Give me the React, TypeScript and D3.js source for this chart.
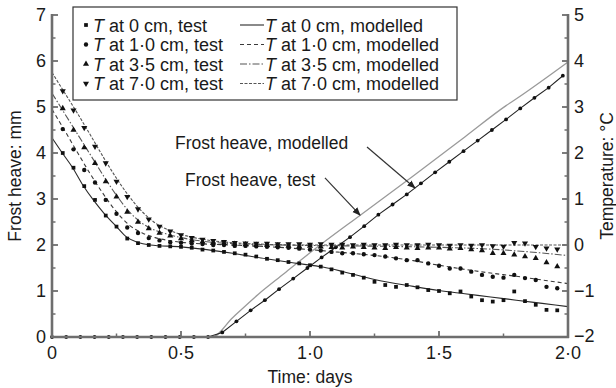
import React from 'react';
import * as d3 from 'd3';

const W = 616;
const H = 388;

// x-axis ticks (days)
const xMajor = [0, 0.5, 1.0, 1.5, 2.0];
const xMajorLabels = ['0', '0·5', '1·0', '1·5', '2·0'];
const xMinor = [0.25, 0.75, 1.25, 1.75];
const leftTicks = [0, 1, 2, 3, 4, 5, 6, 7];
const leftMinor = [0.5, 1.5, 2.5, 3.5, 4.5, 5.5, 6.5];
const rightTicks = [-2, -1, 0, 1, 2, 3, 4, 5];
const rightMinor = [-1.5, -0.5, 0.5, 1.5, 2.5, 3.5, 4.5];

// temperature test data: hourly readings (hour index)
const hours = [1, 2, 3, 4, 5, 6, 7, 8, 9, 10, 11, 12, 13, 14, 15, 16, 17, 18, 19, 20, 21, 22, 23, 24,
  25, 26, 27, 28, 29, 30, 31, 32, 33, 34, 35, 36, 37, 38, 39, 40, 41, 42, 43, 44, 45, 46, 47];
const t0Test = [2.0, 1.68, 1.28, 0.98, 0.64, 0.4, 0.14, 0.04, 0.0, -0.02, -0.03, -0.04, -0.06, -0.1, -0.12, -0.15,
  -0.18, -0.21, -0.25, -0.3, -0.33, -0.37, -0.4, -0.44, -0.47, -0.53, -0.6, -0.65, -0.71, -0.8, -0.87, -0.91,
  -0.87, -0.92, -0.98, -1.0, -1.05, -1.01, -1.12, -1.2, -1.23, -1.2, -1.01, -1.22, -1.3, -1.41, -1.42];
const t1Test = [2.52, 2.08, 1.63, 1.36, 0.98, 0.68, 0.38, 0.26, 0.15, 0.1, 0.06, 0.05, 0.03, 0.02, 0.0, 0.0,
  -0.02, -0.02, -0.03, -0.04, -0.05, -0.06, -0.08, -0.1, -0.12, -0.15, -0.18, -0.18, -0.2, -0.22, -0.25, -0.29,
  -0.33, -0.33, -0.4, -0.45, -0.51, -0.51, -0.58, -0.65, -0.69, -0.71, -0.65, -0.72, -0.76, -0.91, -0.94];
const t35Test = [2.97, 2.5, 2.12, 1.78, 1.38, 1.05, 0.72, 0.5, 0.36, 0.26, 0.2, 0.14, 0.1, 0.07, 0.05, 0.04,
  0.02, 0.01, 0.0, 0.0, -0.01, -0.02, -0.03, -0.02, -0.04, -0.05, -0.06, -0.04, -0.05, -0.06, -0.07, -0.05,
  -0.06, -0.07, -0.06, -0.06, -0.08, -0.07, -0.1, -0.12, -0.18, -0.18, -0.21, -0.25, -0.29, -0.38, -0.47];
const t7Test = [3.35, 2.93, 2.55, 2.14, 1.78, 1.38, 1.05, 0.78, 0.56, 0.4, 0.3, 0.22, 0.16, 0.12, 0.09, 0.07,
  0.05, 0.04, 0.03, 0.03, 0.02, 0.02, 0.02, 0.01, 0.02, 0.01, 0.01, 0.0, 0.01, 0.0, 0.0, 0.01,
  0.0, 0.0, 0.01, 0.0, -0.01, 0.0, -0.01, 0.0, -0.02, -0.03, 0.05, 0.04, -0.04, -0.07, -0.09];

// modelled temperature curves (days, °C)
const t0ModDays = [0, 0.04, 0.08, 0.12, 0.16, 0.2, 0.25, 0.29, 0.33, 0.38, 0.5, 0.6, 0.7, 0.83, 0.95, 1.05, 1.13, 1.25, 1.4, 1.5, 1.6, 1.7, 1.8, 1.9, 2.0];
const t0ModVals = [2.33, 2.0, 1.68, 1.3, 0.98, 0.7, 0.4, 0.17, 0.06, 0.0, -0.04, -0.1, -0.18, -0.3, -0.4, -0.48, -0.58, -0.75, -0.9, -0.99, -1.06, -1.13, -1.2, -1.27, -1.34];
const t1ModDays = [0, 0.05, 0.1, 0.15, 0.2, 0.25, 0.3, 0.35, 0.4, 0.45, 0.5, 0.6, 0.7, 0.85, 1.0, 1.1, 1.2, 1.3, 1.4, 1.5, 1.6, 1.7, 1.8, 1.9, 2.0];
const t1ModVals = [2.95, 2.48, 2.0, 1.53, 1.1, 0.72, 0.43, 0.26, 0.16, 0.1, 0.06, 0.02, 0.0, -0.04, -0.1, -0.15, -0.2, -0.26, -0.34, -0.44, -0.53, -0.61, -0.68, -0.76, -0.84];
const t35ModDays = [0, 0.05, 0.1, 0.15, 0.2, 0.25, 0.3, 0.35, 0.4, 0.45, 0.5, 0.55, 0.6, 0.7, 0.8, 1.0, 1.3, 1.5, 1.7, 1.85, 2.0];
const t35ModVals = [3.3, 2.85, 2.4, 1.95, 1.5, 1.08, 0.72, 0.47, 0.32, 0.23, 0.16, 0.11, 0.07, 0.03, 0.01, -0.01, -0.03, -0.05, -0.09, -0.15, -0.23];
const t7ModDays = [0, 0.05, 0.1, 0.15, 0.2, 0.25, 0.3, 0.35, 0.4, 0.45, 0.5, 0.55, 0.6, 0.7, 0.8, 1.0, 2.0];
const t7ModVals = [3.75, 3.3, 2.85, 2.38, 1.9, 1.45, 1.05, 0.72, 0.48, 0.33, 0.23, 0.16, 0.11, 0.05, 0.02, 0.0, 0.0];

// frost heave (mm)
const frostTestDays = [0, 0.055, 0.11, 0.165, 0.22, 0.275, 0.33, 0.385, 0.44, 0.495, 0.55, 0.605, 0.66, 0.715,
  0.77, 0.825, 0.88, 0.935, 0.99, 1.045, 1.1, 1.155, 1.21, 1.265, 1.32, 1.375, 1.43, 1.485, 1.54, 1.595,
  1.65, 1.705, 1.76, 1.815, 1.87, 1.925, 1.98];
const frostTestVals = [0, 0, 0, 0, 0, 0, 0, 0, 0, 0, 0, 0, 0.1, 0.34, 0.58, 0.8, 1.04, 1.27, 1.5, 1.73, 1.95,
  2.17, 2.41, 2.66, 2.88, 3.1, 3.34, 3.58, 3.81, 4.04, 4.27, 4.5, 4.73, 4.97, 5.2, 5.42, 5.68];
const frostModDays = [0.6, 0.62, 0.7, 0.8, 0.9, 1.0, 1.2, 1.4, 1.6, 1.76, 1.8, 2.0];
const frostModVals = [0, 0, 0.42, 0.93, 1.38, 1.83, 2.67, 3.5, 4.35, 5.03, 5.18, 5.98];

const legendTest = ['T at 0 cm, test', 'T at 1·0 cm, test', 'T at 3·5 cm, test', 'T at 7·0 cm, test'];
const legendMod = ['T at 0 cm, modelled', 'T at 1·0 cm, modelled', 'T at 3·5 cm, modelled', 'T at 7·0 cm, modelled'];

const FONT = 'Liberation Sans, Arial, sans-serif';
const FS = 18;
const TXT = '#1a1a1a';
const AX = '#6e6e6e';

const x = d3.scaleLinear().domain([0, 2]).range([52, 568]);
const yL = d3.scaleLinear().domain([0, 7]).range([337, 15]);
const yR = d3.scaleLinear().domain([-2, 5]).range([337, 15]);

const markerTypes = [d3.symbolSquare, d3.symbolCircle, d3.symbolTriangle, d3.symbolTriangle];
const markerSizes = [14, 15, 16, 16];
const markerRot = [0, 0, 0, 180];
const modStyles = [
  { stroke: '#2a2a2a', dash: '' },
  { stroke: '#3a3a3a', dash: '4,3' },
  { stroke: '#555', dash: '7,2,1.5,2' },
  { stroke: '#555', dash: '3,1.5' },
];

function Marker({ cx, cy, i }: { cx: number; cy: number; i: number }) {
  const p = d3.symbol().type(markerTypes[i]).size(markerSizes[i])() as string;
  return <path d={p} transform={`translate(${cx},${cy}) rotate(${markerRot[i]})`} fill="#111" />;
}

function LegendLabel({ text, xx, yy }: { text: string; xx: number; yy: number }) {
  return (
    <text x={xx} y={yy} fontSize={FS} fontFamily={FONT} fill={TXT}>
      <tspan fontStyle="italic">T</tspan>
      <tspan>{text.slice(1)}</tspan>
    </text>
  );
}

export default function App() {
  const tempTests = [t0Test, t1Test, t35Test, t7Test];
  const mods = [
    [t0ModDays, t0ModVals],
    [t1ModDays, t1ModVals],
    [t35ModDays, t35ModVals],
    [t7ModDays, t7ModVals],
  ];
  const lineGen = (ys: d3.ScaleLinear<number, number>) =>
    d3.line<[number, number]>().x((d) => x(d[0])).y((d) => ys(d[1])).curve(d3.curveMonotoneX);

  const frostTestPts: [number, number][] = frostTestDays.map((d, i) => [d, frostTestVals[i]]);
  const frostModPts: [number, number][] = frostModDays.map((d, i) => [d, frostModVals[i]]);

  const arrowMod = { from: [1.221, 4.13], to: [1.407, 3.24] };
  const arrowTest = { from: [1.058, 3.46], to: [1.194, 2.65] };

  const legendRowY = [25, 44.5, 64, 83.5];

  return (
    <svg width={W} height={H} style={{ position: 'absolute', left: 0, top: 0, background: '#fff' }}>
      <defs>
        <marker id="ah" viewBox="0 0 10 10" refX="9" refY="5" markerWidth="7" markerHeight="7" orient="auto">
          <path d="M0,1 L10,5 L0,9 z" fill="#222" />
        </marker>
      </defs>
      <rect x={0} y={0} width={W} height={H} fill="#fff" />

      {/* frost heave lines */}
      <path d={lineGen(yL)(frostModPts) as string} fill="none" stroke="#9a9a9a" strokeWidth={1.3} />
      <path d={d3.line<[number, number]>().x((d) => x(d[0])).y((d) => yL(d[1]))(frostTestPts) as string}
        fill="none" stroke="#222" strokeWidth={1.1} />
      {frostTestPts.map((d, i) => (
        <circle key={'ft' + i} cx={x(d[0])} cy={yL(d[1])} r={1.9} fill="#111" />
      ))}

      {/* modelled temperature */}
      {mods.map((m, i) => {
        const pts: [number, number][] = m[0].map((d, j) => [d, m[1][j]]);
        return (
          <path key={'m' + i} d={lineGen(yR)(pts) as string} fill="none" stroke={modStyles[i].stroke}
            strokeWidth={1.1} strokeDasharray={modStyles[i].dash} />
        );
      })}

      {/* test temperature */}
      {tempTests.map((arr, i) =>
        arr.map((v, j) => <Marker key={'tt' + i + '-' + j} cx={x(hours[j] / 24)} cy={yR(v)} i={i} />)
      )}

      {/* axes */}
      <line x1={x(0)} x2={x(0)} y1={yL(7) - 1} y2={yL(0) + 1} stroke={AX} strokeWidth={2.6} />
      <line x1={x(2)} x2={x(2)} y1={yR(5) - 1} y2={yR(-2) + 1} stroke={AX} strokeWidth={2.6} />
      <line x1={x(0) - 1} x2={x(2) + 1} y1={yL(0)} y2={yL(0)} stroke={AX} strokeWidth={2.6} />

      {leftTicks.map((t) => (
        <g key={'lt' + t}>
          <line x1={x(0)} x2={x(0) + 6} y1={yL(t)} y2={yL(t)} stroke={AX} strokeWidth={1.8} />
          <text x={46} y={yL(t)} dy="0.36em" textAnchor="end" fontSize={FS} fontFamily={FONT} fill={TXT}>{t}</text>
        </g>
      ))}
      {leftMinor.map((t) => (
        <line key={'lm' + t} x1={x(0)} x2={x(0) + 3.5} y1={yL(t)} y2={yL(t)} stroke={AX} strokeWidth={1.5} />
      ))}
      {rightTicks.map((t) => (
        <g key={'rt' + t}>
          <line x1={x(2) - 6} x2={x(2)} y1={yR(t)} y2={yR(t)} stroke={AX} strokeWidth={1.8} />
          <text x={574} y={yR(t)} dy={t === -2 ? '0.3em' : '0.36em'} textAnchor="start" fontSize={FS} fontFamily={FONT} fill={TXT}>
            {t < 0 ? '−' + Math.abs(t) : String(t)}
          </text>
        </g>
      ))}
      {rightMinor.map((t) => (
        <line key={'rm' + t} x1={x(2) - 3.5} x2={x(2)} y1={yR(t)} y2={yR(t)} stroke={AX} strokeWidth={1.5} />
      ))}
      {xMajor.map((t, i) => (
        <g key={'xt' + t}>
          <line x1={x(t)} x2={x(t)} y1={yL(0)} y2={yL(0) - 6} stroke={AX} strokeWidth={1.8} />
          <text x={x(t)} y={358.5} textAnchor="middle" fontSize={FS} fontFamily={FONT} fill={TXT}>{xMajorLabels[i]}</text>
        </g>
      ))}
      {xMinor.map((t) => (
        <line key={'xm' + t} x1={x(t)} x2={x(t)} y1={yL(0)} y2={yL(0) - 3.5} stroke={AX} strokeWidth={1.5} />
      ))}

      {/* axis titles */}
      <text x={310} y={383} textAnchor="middle" fontSize={FS - 0.5} fontFamily={FONT} fill={TXT}>Time: days</text>
      <text transform={`translate(21,176) rotate(-90)`} textAnchor="middle" fontSize={FS - 0.5} fontFamily={FONT} fill={TXT}>
        Frost heave: mm
      </text>
      <text transform={`translate(613,176) rotate(-90)`} textAnchor="middle" fontSize={FS - 0.5} fontFamily={FONT} fill={TXT}>
        Temperature: °C
      </text>

      {/* annotations */}
      <text x={175} y={149} fontSize={FS - 0.5} fontFamily={FONT} fill={TXT}>Frost heave, modelled</text>
      <text x={185} y={186} fontSize={FS - 0.5} fontFamily={FONT} fill={TXT}>Frost heave, test</text>
      <line x1={x(arrowMod.from[0])} y1={yL(arrowMod.from[1])} x2={x(arrowMod.to[0])} y2={yL(arrowMod.to[1])}
        stroke="#333" strokeWidth={1.2} markerEnd="url(#ah)" />
      <line x1={x(arrowTest.from[0])} y1={yL(arrowTest.from[1])} x2={x(arrowTest.to[0])} y2={yL(arrowTest.to[1])}
        stroke="#333" strokeWidth={1.2} markerEnd="url(#ah)" />

      {/* legend */}
      <rect x={73} y={7} width={384} height={93} fill="#fff" stroke="#333" strokeWidth={1.2} />
      {legendRowY.map((ry, i) => (
        <g key={'lg' + i}>
          <Marker cx={86} cy={ry} i={i} />
          <LegendLabel text={legendTest[i]} xx={93} yy={ry + 6.5} />
          <line x1={240} x2={264} y1={ry} y2={ry} stroke={modStyles[i].stroke} strokeWidth={1.1}
            strokeDasharray={modStyles[i].dash} />
          <LegendLabel text={legendMod[i]} xx={265} yy={ry + 6.5} />
        </g>
      ))}
    </svg>
  );
}
